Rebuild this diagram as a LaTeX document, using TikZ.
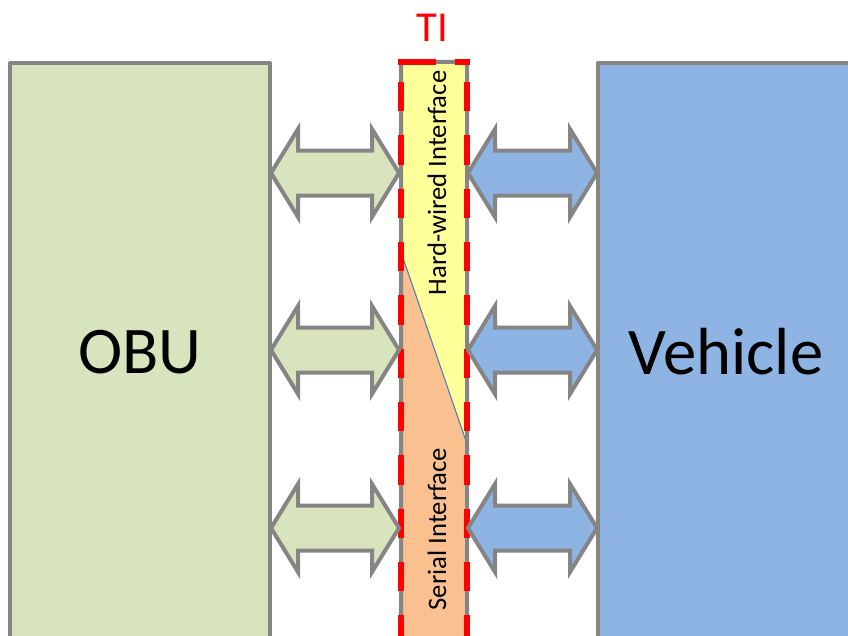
\documentclass[tikz,border=0pt]{standalone}
\usepackage{fontspec}
\setmainfont{Carlito}
\definecolor{obufill}{HTML}{D7E4BD}
\definecolor{vehfill}{HTML}{8EB4E3}
\definecolor{bordergray}{HTML}{858585}
\definecolor{hwfill}{HTML}{FFFF99}
\definecolor{serfill}{HTML}{FAC090}
\definecolor{tired}{HTML}{FF0000}
\definecolor{splitblue}{HTML}{4A7EBB}
\tikzset{
  blockline/.style={draw=bordergray, line width=3, line join=round},
  arr/.style={draw=bordergray, line width=3, line join=miter},
  bigtext/.style={font=\fontsize{50}{60}\selectfont, inner sep=0},
  sidetext/.style={font=\fontsize{20}{24}\selectfont, rotate=90, inner sep=0},
  titext/.style={font=\fontsize{32}{38}\selectfont, text=tired, inner sep=0},
  tidash/.style={draw=tired, line width=4.5, dash pattern=on 22 off 18},
}
\newcommand\dblarrow[4]{%
  \draw[arr, fill=#4] (#1,#3) -- (#1+27,#3-44) -- (#1+27,#3-22.5) -- (#2-27,#3-22.5)
    -- (#2-27,#3-44) -- (#2,#3) -- (#2-27,#3+44) -- (#2-27,#3+22.5)
    -- (#1+27,#3+22.5) -- (#1+27,#3+44) -- cycle;}
\begin{document}
\begin{tikzpicture}[x=0.75pt,y=-0.75pt]
\useasboundingbox (0,0) rectangle (848,635);
\clip (0,0) rectangle (848,635);
% OBU block
\draw[blockline, fill=obufill] (10,63) rectangle (270,660);
\node[bigtext] (obu) at (140,352) {OBU};
% Vehicle block
\draw[blockline, fill=vehfill] (598,63) rectangle (870,660);
\node[bigtext] (veh) at (726,352) {Vehicle};
% TI column
\fill[hwfill] (401,62) rectangle (467,660);
\fill[serfill] (401,252) -- (467,444) -- (467,660) -- (401,660) -- cycle;
\draw[splitblue, line width=0.8] (401,252) -- (467,444);
\draw[blockline, rounded corners=2] (401,660) -- (401,62) -- (467,62) -- (467,660);
\draw[tidash, dash phase=25] (401,62) -- (401,660);
\draw[tidash, dash phase=25] (467,62) -- (467,660);
\draw[draw=tired, line width=4.5, dash pattern=on 24 off 19, line cap=rect] (401,62) -- (467,62);
\node[sidetext] (hw) at (437,183) {Hard-wired Interface};
\node[sidetext] (ser) at (437,529) {Serial Interface};
\node[titext] (ti) at (432,28) {TI};
% Arrows
\dblarrow{271}{399}{173}{obufill}
\dblarrow{271}{399}{350}{obufill}
\dblarrow{271}{399}{528}{obufill}
\dblarrow{468}{597}{173}{vehfill}
\dblarrow{468}{597}{350}{vehfill}
\dblarrow{468}{597}{528}{vehfill}
\end{tikzpicture}
\end{document}
